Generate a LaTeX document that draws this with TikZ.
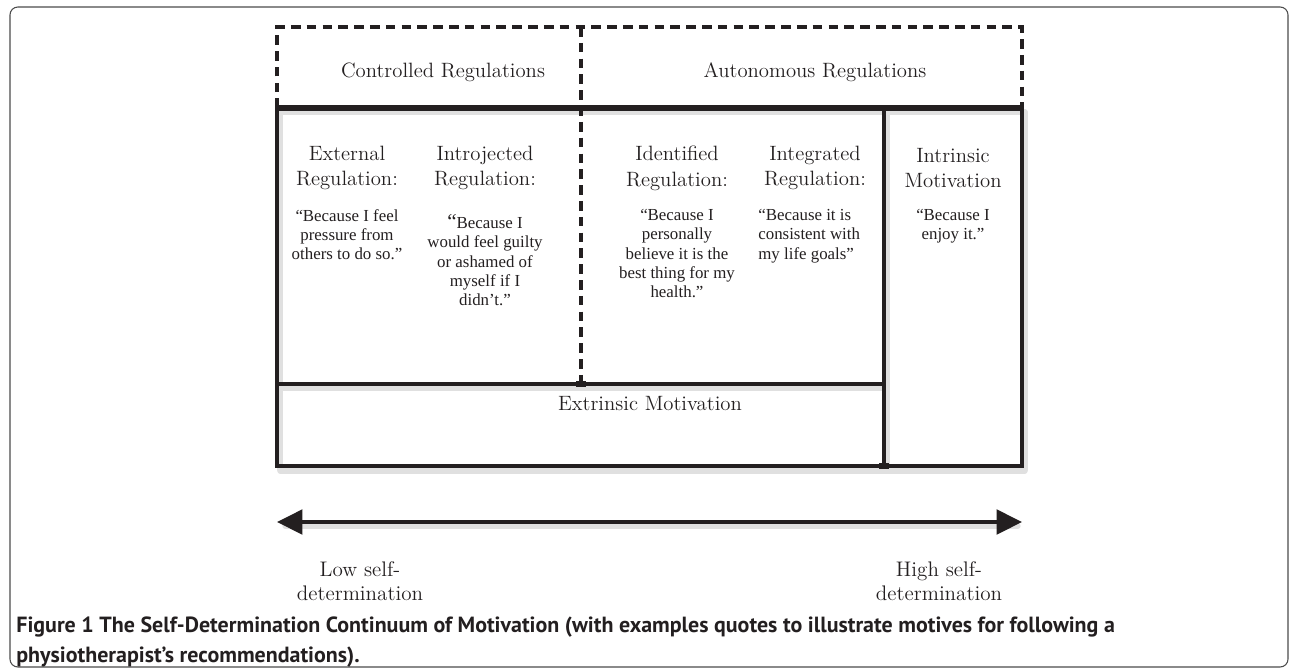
\documentclass[tikz,border=0pt]{standalone}
\usepackage{fontspec}
\usepackage{tikz}
\usetikzlibrary{arrows.meta, positioning}
\usepackage{xcolor}
\newfontfamily\quotefont{Liberation Serif}
\newfontfamily\capfont{PT Sans}
\definecolor{inchiostro}{HTML}{231F20}

\begin{document}
\begin{tikzpicture}[x=0.02cm, y=-0.02cm,
    titolo/.style={font=\addfontfeatures{FakeBold=0.5}\fontsize{11.8}{14.7}\selectfont, align=center, inner sep=0pt, text=inchiostro},
    citazione/.style={font=\quotefont\fontsize{9.6}{11}\selectfont, align=center, inner sep=0pt, anchor=north, text=inchiostro},
    etichetta/.style={font=\fontsize{12}{13.6}\selectfont, align=center, inner sep=0pt, text=inchiostro},
    tratteggio/.style={inchiostro, line width=1.8pt, dash pattern=on 5.5pt off 3.5pt},
    bordo/.style={inchiostro, line width=1.8pt},
    ombra/.style={black!12, line width=3pt, line cap=round}]
    % Parametri (in pixel)
    \pgfmathsetmacro{\xa}{277}
    \pgfmathsetmacro{\xb}{581}
    \pgfmathsetmacro{\xc}{884}
    \pgfmathsetmacro{\xd}{1022}
    \pgfmathsetmacro{\ya}{27}
    \pgfmathsetmacro{\yb}{108}
    \pgfmathsetmacro{\yc}{384}
    \pgfmathsetmacro{\yd}{466}
    \useasboundingbox (0,0) rectangle (1290,670);
    % Cornice
    \draw[gray!60!black, line width=0.6pt, rounded corners=4.5pt] (10,7) rectangle (1288,667);
    % Ombre
    \draw[ombra] (\xa+3,\yb+4) -- (\xd+3,\yb+4);
    \draw[ombra] (\xa+3,\yc+4) -- (\xc+3,\yc+4);
    \draw[ombra] (\xa+3,\yd+5) -- (\xd+3,\yd+5);
    \draw[ombra] (\xa+3,\yb+4) -- (\xa+3,\yd+4);
    \draw[ombra] (\xc+3,\yb+4) -- (\xc+3,\yd+4);
    \draw[ombra] (\xd+3,\yb+4) -- (\xd+3,\yd+4);
    \draw[ombra] (\xa+8,526) -- (\xd-4,526);
    % Regolazioni (tratteggio)
    \draw[tratteggio] (\xa,\yb) -- (\xa,\ya) -- (\xd,\ya) -- (\xd,\yb);
    \draw[tratteggio] (\xb,\ya) -- (\xb,\yc);
    % Linea spessa
    \draw[inchiostro, line width=3pt] (\xa,\yb) -- (\xd,\yb);
    % Riquadri
    \draw[bordo] (\xa,\yb) -- (\xa,\yd) -- (\xd,\yd) -- (\xd,\yb);
    \draw[bordo] (\xc,\yb) -- (\xc,\yd);
    \draw[bordo] (\xa,\yc) -- (\xc,\yc);
    % giunti
    \foreach \p in {(\xb,\yb),(\xc,\yb),(\xb,\yc),(\xc,\yd)}
        \fill[inchiostro] \p ++(-5,-3) rectangle ++(10,6);
    % Titoli
    \node[titolo] (controllate) at (443,72){Controlled Regulations};
    \node[titolo] (autonome) at (815,72){Autonomous Regulations};
    \node[titolo] (esterna) at (347,168){External\\Regulation:};
    \node[titolo] (introiettata) at (485,168){Introjected\\Regulation:};
    \node[titolo] (identificata) at (677,168){Identified\\Regulation:};
    \node[titolo] (integrata) at (815,168){Integrated\\Regulation:};
    \node[titolo] (intrinseca) at (953,168){Intrinsic\\Motivation};
    \node[titolo] (estrinseca) at (650,404){Extrinsic Motivation};
    % Citazioni
    \node[citazione] (c-esterna) at (347,209){“Because I feel\\pressure from\\others to do so.”};
    \node[citazione] (c-introiettata) at (485,214){{\fontsize{12}{11}\selectfont “}Because I\\would feel guilty\\or ashamed of\\myself if I\\didn’t.”};
    \node[citazione] (c-identificata) at (677,209){“Because I\\personally\\believe it is the\\best thing for my\\health.”};
    \node[citazione, anchor=north west, align=left] (c-integrata) at (758,209){“Because it is\\consistent with\\my life goals”};
    \node[citazione] (c-intrinseca) at (953,209){“Because I\\enjoy it.”};
    % Freccia
    \coordinate (sx) at (\xa,522);
    \coordinate (dx) at (\xd,522);
    \draw[inchiostro, line width=2pt, {Triangle[length=14.5pt,width=14pt]}-{Triangle[length=14.5pt,width=14pt]}] (sx) -- (dx);
    \node[etichetta] (bassa) at (360,581){Low self-\\determination};
    \node[etichetta] (alta) at (939,581){High self-\\determination};
    % Didascalia
    \node[font=\capfont\bfseries\fontsize{12.5}{17.5}\selectfont, align=left, inner sep=0pt, anchor=north west, text=inchiostro] (didascalia) at (16,616){Figure 1 The Self-Determination Continuum of Motivation (with examples quotes to illustrate motives for following a\\physiotherapist’s recommendations).};
\end{tikzpicture}
\end{document}
